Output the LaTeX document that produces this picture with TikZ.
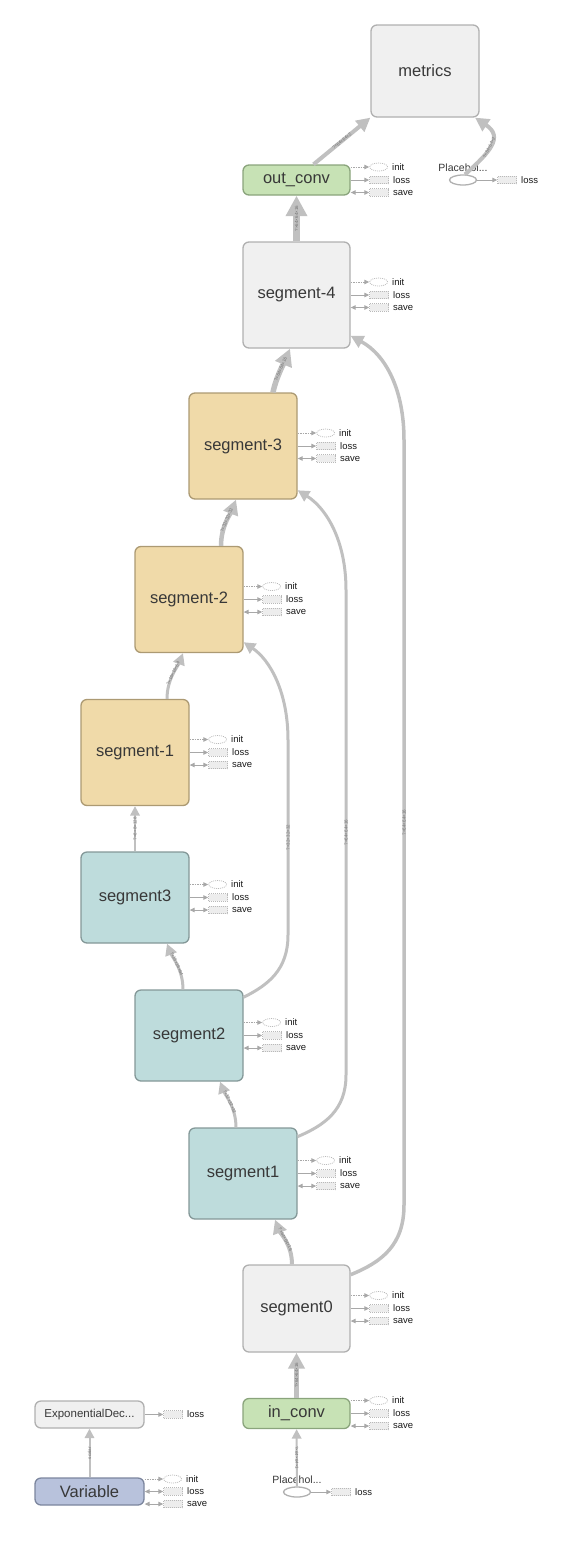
\documentclass[tikz,border=0pt]{standalone}
\usepackage{fontspec}
\setmainfont{Liberation Sans}
\usepackage{tikz}
\definecolor{opgray}{RGB}{240,240,240}
\definecolor{opgrayline}{RGB}{176,176,176}
\definecolor{segtan}{RGB}{240,218,169}
\definecolor{segtanline}{RGB}{172,154,115}
\definecolor{segteal}{RGB}{190,220,220}
\definecolor{segtealline}{RGB}{132,152,152}
\definecolor{convgreen}{RGB}{199,226,181}
\definecolor{convgreenline}{RGB}{138,164,124}
\definecolor{varblue}{RGB}{184,194,220}
\definecolor{varblueline}{RGB}{124,134,158}
\definecolor{edgegray}{RGB}{192,192,192}
\definecolor{auxgray}{RGB}{168,168,168}
\usetikzlibrary{shapes.geometric, arrows.meta, positioning, calc}

\begin{document}
\begin{tikzpicture}[
    x=1pt, y=-1pt,
    op/.style={rectangle, draw, rounded corners=6pt, line width=1.3pt, inner sep=0pt, align=center, text=black!78, font=\fontsize{16.5}{16.5}\selectfont},
    graybox/.style={op, fill=opgray, draw=opgrayline},
    tanbox/.style={op, fill=segtan, draw=segtanline, minimum width=108pt, minimum height=106pt},
    tealbox/.style={op, fill=segteal, draw=segtealline, minimum width=108pt, minimum height=91pt},
    convbox/.style={op, fill=convgreen, draw=convgreenline, minimum width=107pt, minimum height=30pt},
    placeholder/.style={ellipse, draw=opgrayline, fill=white, line width=1.3pt, minimum width=27pt, minimum height=10pt, inner sep=0pt},
    phtext/.style={inner sep=0pt, text=black!78, font=\fontsize{10.5}{11}\selectfont},
    initbox/.style={ellipse, draw=auxgray!80, dash pattern=on 1pt off 1pt, fill=white, line width=0.7pt, minimum width=18pt, minimum height=8pt, inner sep=0pt},
    auxbox/.style={rectangle, draw=auxgray!80, dash pattern=on 1pt off 1pt, fill=black!7, line width=0.7pt, minimum width=19pt, minimum height=7.5pt, inner sep=0pt},
    auxtext/.style={inner sep=0pt, text=black!90, font=\fontsize{9.5}{9.5}\selectfont},
    auxarrow/.style={draw=auxgray, line width=1pt, -{Triangle[length=5pt, width=4.5pt]}},
    flow/.style={draw=edgegray, line width=#1, -{Triangle[length=5pt 2.2, width=5pt 2.2]}},
    edgelabel/.style={sloped, inner sep=0pt, text=black!55, font=\fontsize{4.5}{5}\selectfont}
]
    \path[use as bounding box] (0,0) rectangle (583,1548);

    % main column
    \node[graybox, minimum width=108pt, minimum height=92pt] (metrics) at (425,71) {metrics};
    \node[convbox] (outconv) at (296.5,180) {out\_conv};
    \node[graybox, minimum width=107pt, minimum height=106pt] (segm4) at (296.5,295) {segment-4};
    \node[tanbox] (segm3) at (243,446) {segment-3};
    \node[tanbox] (segm2) at (189,599.5) {segment-2};
    \node[tanbox] (segm1) at (135,752.5) {segment-1};
    \node[tealbox] (seg3) at (135,897.5) {segment3};
    \node[tealbox] (seg2) at (189,1035.5) {segment2};
    \node[tealbox] (seg1) at (243,1173.5) {segment1};
    \node[graybox, minimum width=107pt, minimum height=87pt] (seg0) at (296.5,1308.5) {segment0};
    \node[convbox] (inconv) at (296.5,1413.5) {in\_conv};

    % inputs
    \node[placeholder] (phin) at (297,1492) {};
    \node[phtext, above=3pt of phin] (phinlabel) {Placehol...};
    \node[placeholder] (phout) at (463,180) {};
    \node[phtext, above=3pt of phout] (phoutlabel) {Placehol...};
    \node[graybox, minimum width=109pt, minimum height=27pt, font=\fontsize{11.5}{11.5}\selectfont] (expdecay) at (89.5,1414.5) {ExponentialDec...};
    \node[op, fill=varblue, draw=varblueline, minimum width=109pt, minimum height=27pt] (variable) at (89.5,1491.5) {Variable};

    % main flow
    \draw[flow=2pt] (phin) -- node[edgelabel] {?×64×64×1} (inconv);
    \draw[flow=5pt] (inconv) -- node[edgelabel] {?×64×64×16} (seg0);
    \draw[flow=4pt] ([xshift=-4.5pt]seg0.north) .. controls +(0,-20) and +(5,13) .. node[edgelabel] {?×64×64×16} ([xshift=32pt]seg1.south);
    \draw[flow=3pt] ([xshift=-7pt]seg1.north) .. controls +(0,-20) and +(5,13) .. node[edgelabel] {?×32×32×32} ([xshift=31pt]seg2.south);
    \draw[flow=3pt] ([xshift=-6pt]seg2.north) .. controls +(0,-20) and +(5,13) .. node[edgelabel] {?×16×16×64} ([xshift=32pt]seg3.south);
    \draw[flow=2pt] (seg3) -- node[edgelabel] {?×8×8×128} (segm1);
    \draw[flow=3pt] ([xshift=32pt]segm1.north) .. controls +(0,-20) and +(-5,13) .. node[edgelabel] {?×16×16×64} ([xshift=-6pt]segm2.south);
    \draw[flow=4.5pt] ([xshift=32pt]segm2.north) .. controls +(0,-20) and +(-5,13) .. node[edgelabel] {?×32×32×32} ([xshift=-7pt]segm3.south);
    \draw[flow=5.5pt] ([xshift=30pt]segm3.north) .. controls +(3,-15) and +(-5,12) .. node[edgelabel] {?×64×64×16} ([xshift=-6.5pt]segm4.south);
    \draw[flow=7pt] (segm4) -- node[edgelabel] {?×64×64×16} (outconv);
    \draw[flow=4pt] ([xshift=17pt]outconv.north) -- node[edgelabel] {?×64×64×2} (metrics.south west);
    \draw[flow=4pt] (phout.70) .. controls (490,152) and (504,137) .. node[edgelabel, pos=0.45] {?×64×64×2} (metrics.-43);

    % skip connections
    \draw[flow=3pt] (seg2.35) .. controls (268,985) and (288,970) .. (288,935) -- node[edgelabel] {?×32×32×32} (288,740) .. controls (288,692) and (270,660) .. (segm2.-38);
    \draw[flow=3pt] (seg1.34) .. controls (325,1125) and (346,1110) .. (346,1075) -- node[edgelabel] {?×64×64×16} (346,590) .. controls (346,540) and (326,508) .. (segm3.-39);
    \draw[flow=3.5pt] (seg0.32) .. controls (382,1262) and (404,1245) .. (404,1205) -- node[edgelabel] {?×64×64×16} (404,440) .. controls (404,390) and (386,355) .. (segm4.-37.5);

    % learning rate
    \draw[flow=2pt] (variable) -- node[edgelabel] {scalar} (expdecay);

    % init / loss / save
    \foreach \n in {outconv,segm4,segm3,segm2,segm1,seg3,seg2,seg1,seg0,inconv} {
        \node[initbox] (\n-init) at ($(\n.east)+(28,-13)$) {};
        \node[auxbox] (\n-loss) at ($(\n.east)+(28.5,0)$) {};
        \node[auxbox] (\n-save) at ($(\n.east)+(28.5,12.5)$) {};
        \node[auxtext, right=4pt of \n-init] {init};
        \node[auxtext, right=4pt of \n-loss] {loss};
        \node[auxtext, right=4pt of \n-save] {save};
        \draw[auxarrow, dash pattern=on 1.5pt off 1pt] (\n.east |- \n-init.west) -- (\n-init);
        \draw[auxarrow] (\n.east) -- (\n-loss);
        \draw[auxarrow, {Triangle[length=5pt, width=4.5pt]}-{Triangle[length=5pt, width=4.5pt]}] (\n.east |- \n-save.west) -- (\n-save);
    }

    \node[initbox] (variable-init) at ($(variable.east)+(28,-12.5)$) {};
    \node[auxbox] (variable-loss) at ($(variable.east)+(28.5,0)$) {};
    \node[auxbox] (variable-save) at ($(variable.east)+(28.5,12.5)$) {};
    \node[auxtext, right=4pt of variable-init] {init};
    \node[auxtext, right=4pt of variable-loss] {loss};
    \node[auxtext, right=4pt of variable-save] {save};
    \draw[auxarrow, dash pattern=on 1.5pt off 1pt] (variable.east |- variable-init.west) -- (variable-init);
    \draw[auxarrow, {Triangle[length=5pt, width=4.5pt]}-{Triangle[length=5pt, width=4.5pt]}] (variable.east) -- (variable-loss);
    \draw[auxarrow, {Triangle[length=5pt, width=4.5pt]}-{Triangle[length=5pt, width=4.5pt]}] (variable.east |- variable-save.west) -- (variable-save);

    \node[auxbox] (expdecay-loss) at ($(expdecay.east)+(28.5,0)$) {};
    \node[auxtext, right=4pt of expdecay-loss] {loss};
    \draw[auxarrow] (expdecay.east) -- (expdecay-loss);

    \node[auxbox] (phin-loss) at ($(phin.east)+(30,0)$) {};
    \node[auxtext, right=4pt of phin-loss] {loss};
    \draw[auxarrow] (phin.east) -- (phin-loss);

    \node[auxbox] (phout-loss) at ($(phout.east)+(30,0)$) {};
    \node[auxtext, right=4pt of phout-loss] {loss};
    \draw[auxarrow] (phout.east) -- (phout-loss);
\end{tikzpicture}
\end{document}
